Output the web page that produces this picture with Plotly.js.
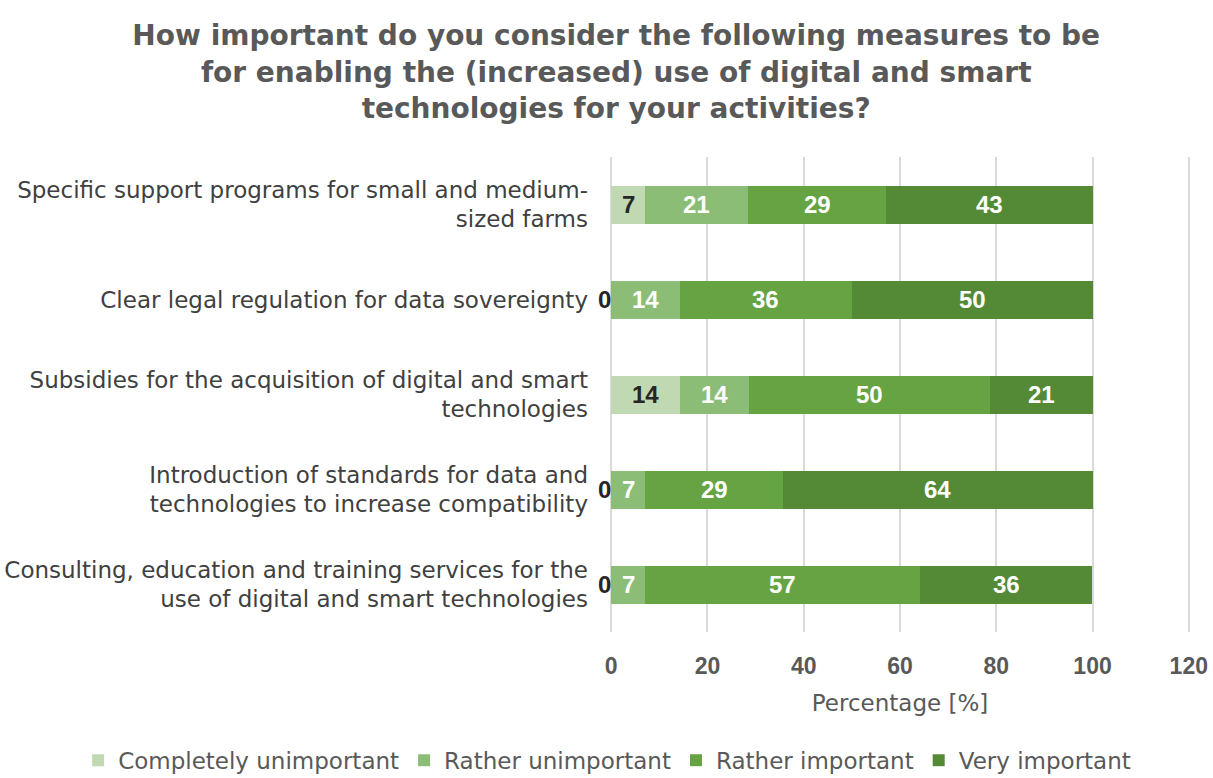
<!DOCTYPE html>
<html>
<head>
<meta charset="utf-8">
<script src="https://cdn.plot.ly/plotly-3.0.1.min.js"></script>
<style>html,body{margin:0;padding:0;background:#fff;}#chart{width:1213px;height:778px;}</style>
</head>
<body>
<div id="chart"></div>
<script>
const categories = [
  "Specific support programs for small and medium-<br>sized farms",
  "Clear legal regulation for data sovereignty",
  "Subsidies for the acquisition of digital and smart<br>technologies",
  "Introduction of standards for data and<br>technologies to increase compatibility",
  "Consulting, education and training services for the<br>use of digital and smart technologies"
];
const seriesNames = ["Completely unimportant", "Rather unimportant", "Rather important", "Very important"];
const completelyUnimportant = [7.1, 0, 14.3, 0, 0];
const ratherUnimportant = [21.4, 14.3, 14.3, 7.1, 7.1];
const ratherImportant = [28.6, 35.7, 50, 28.6, 57.1];
const veryImportant = [42.9, 50, 21.4, 64.3, 35.7];
const colors = ["#c0d9b3", "#8cbd76", "#66a343", "#548a36"];
const labelColors = ["#262626", "#ffffff", "#ffffff", "#ffffff"];
const xTicks = [0, 20, 40, 60, 80, 100, 120];

const allSeries = [completelyUnimportant, ratherUnimportant, ratherImportant, veryImportant];
const FONT = "DejaVu Sans, sans-serif";
const ARIAL = "Liberation Sans, Arial, sans-serif";

const traces = allSeries.map((vals, i) => ({
  type: "bar",
  orientation: "h",
  name: seriesNames[i],
  y: categories,
  x: vals,
  marker: {color: colors[i]},
  width: 0.4,
  hoverinfo: "x+name"
}));

const annotations = [];
categories.forEach((cat, ci) => {
  let cum = 0;
  allSeries.forEach((vals, si) => {
    const v = vals[ci];
    const zero = v === 0;
    annotations.push({
      x: cum + v / 2,
      y: cat,
      xref: "x",
      yref: "y",
      text: "<b>" + Math.round(v) + "</b>",
      showarrow: false,
      xanchor: "center",
      yanchor: "middle",
      xshift: zero ? -7 : 0,
      font: {family: ARIAL, size: 24, color: zero ? "#262626" : labelColors[si]}
    });
    cum += v;
  });
});

const layout = {
  width: 1213,
  height: 778,
  paper_bgcolor: "#ffffff",
  plot_bgcolor: "#ffffff",
  margin: {l: 610, r: 23, t: 157, b: 146, autoexpand: false},
  barmode: "stack",
  bargap: 0.6,
  title: {
    text: "<b>How important do you consider the following measures to be<br>for enabling the (increased) use of digital and smart<br>technologies for your activities?</b>",
    font: {family: FONT, size: 28, color: "#595959"},
    x: 0.508,
    xref: "container",
    xanchor: "center",
    y: 0.942,
    yref: "container",
    yanchor: "middle"
  },
  xaxis: {
    range: [-0.25, 120.25],
    tickvals: xTicks,
    ticktext: xTicks.map(v => "<b>" + v + "</b>"),
    showgrid: true,
    gridcolor: "#dadada",
    gridwidth: 2,
    zeroline: false,
    showline: false,
    ticks: "",
    automargin: false,
    ticklabelstandoff: 18,
    tickfont: {family: ARIAL, size: 23, color: "#595959"},
    title: {text: "Percentage [%]", font: {family: FONT, size: 23, color: "#595959"}, standoff: 16}
  },
  yaxis: {
    autorange: "reversed",
    showgrid: false,
    zeroline: false,
    showline: false,
    ticks: "",
    automargin: false,
    ticklabelstandoff: 21,
    tickfont: {family: FONT, size: 23, color: "#404040"}
  },
  legend: {
    orientation: "h",
    x: -0.917,
    xref: "paper",
    xanchor: "left",
    y: -0.27,
    yref: "paper",
    yanchor: "middle",
    traceorder: "normal",
    font: {family: FONT, size: 23, color: "#595959"},
    itemwidth: 30
  },
  annotations: annotations,
  showlegend: true
};

Plotly.newPlot("chart", traces, layout, {displayModeBar: false, staticPlot: true});
</script>
</body>
</html>
